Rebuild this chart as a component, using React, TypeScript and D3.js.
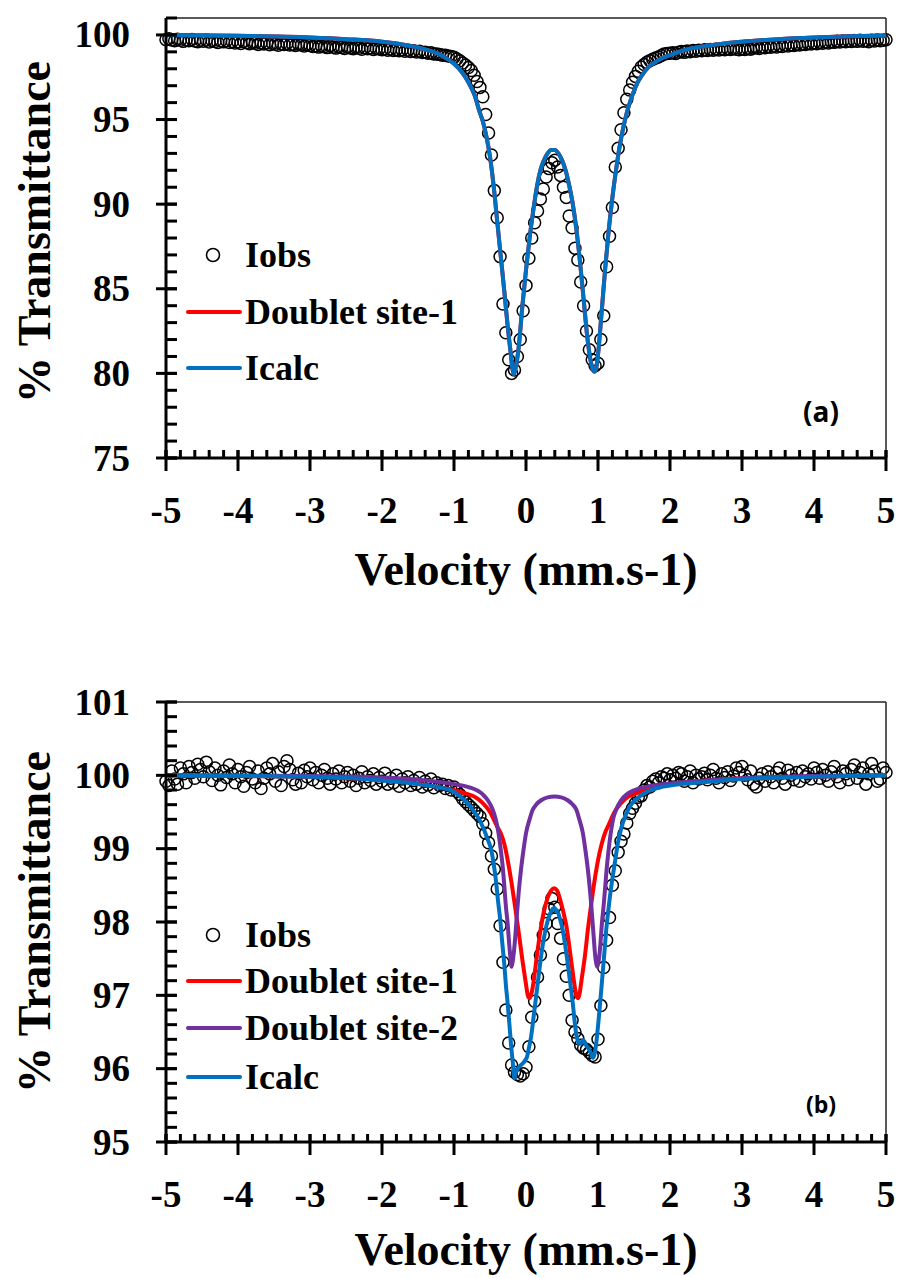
import React from 'react';
import * as d3 from 'd3';

// Channel velocity calibration (mm/s): first channel and channel step
const VEL_START = -5;
const VEL_STEP = 0.04;

// Panel (a): observed transmittance (%) per channel, -5 .. +5 mm/s
const OBS_A = [
  99.72, 99.78, 99.70, 99.66, 99.74, 99.69, 99.62, 99.71, 99.66, 99.73, 99.64, 99.60, 99.68, 99.63, 99.70, 99.58, 99.65, 99.61, 99.55, 99.64, 99.59, 99.66, 99.55, 99.60, 99.52,
  99.58, 99.50, 99.61, 99.54, 99.48, 99.56, 99.51, 99.44, 99.53, 99.47, 99.52, 99.42, 99.49, 99.45, 99.39, 99.48, 99.43, 99.50, 99.40, 99.44, 99.37, 99.45, 99.41, 99.35, 99.42,
  99.38, 99.31, 99.36, 99.28, 99.33, 99.30, 99.25, 99.34, 99.27, 99.22, 99.30, 99.26, 99.20, 99.28, 99.23, 99.19, 99.26, 99.21, 99.15, 99.24, 99.18, 99.22, 99.14, 99.20, 99.17,
  99.12, 99.18, 99.10, 99.15, 99.08, 99.13, 99.06, 99.11, 99.04, 99.09, 99.02, 99.06, 98.99, 99.03, 98.96, 98.98, 98.92, 98.94, 98.88, 98.87, 98.85, 98.80, 98.80, 98.76, 98.72,
  98.68, 98.58, 98.47, 98.34, 98.22, 98.08, 97.90, 97.62, 97.25, 96.90, 96.35, 95.30, 94.20, 92.90, 90.80, 89.20, 86.90, 84.10, 82.40, 80.80, 80.00, 80.20, 81.00, 82.00, 83.70,
  85.20, 86.80, 88.00, 88.90, 89.60, 90.30, 90.90, 91.60, 92.10, 92.45, 92.60, 92.20, 91.70, 91.00, 90.40, 89.30, 88.60, 87.40, 86.70, 85.40, 84.00, 82.50, 81.40, 80.80, 80.45,
  80.60, 82.00, 83.40, 86.30, 88.10, 89.80, 92.20, 93.30, 94.40, 95.40, 96.20, 96.75, 97.20, 97.55, 97.85, 98.10, 98.25, 98.38, 98.48, 98.56, 98.64, 98.70, 98.78, 98.88, 98.90,
  98.92, 98.95, 98.90, 98.98, 99.02, 98.97, 99.05, 99.00, 99.08, 99.04, 99.10, 99.06, 99.12, 99.08, 99.14, 99.10, 99.16, 99.11, 99.17, 99.13, 99.19, 99.14, 99.20, 99.15, 99.12,
  99.18, 99.14, 99.20, 99.16, 99.22, 99.25, 99.20, 99.28, 99.24, 99.30, 99.27, 99.33, 99.29, 99.36, 99.32, 99.39, 99.35, 99.41, 99.38, 99.44, 99.40, 99.47, 99.43, 99.50, 99.46,
  99.52, 99.48, 99.55, 99.51, 99.57, 99.53, 99.60, 99.56, 99.62, 99.58, 99.64, 99.60, 99.66, 99.61, 99.67, 99.62, 99.68, 99.63, 99.66, 99.60, 99.68, 99.64, 99.70, 99.65, 99.69, 99.72,
];

// Panel (a): fitted curve (single doublet, identical to Icalc)
const FIT_A_V = [
  -5, -4, -3, -2.5, -2, -1.6, -1.4, -1.2, -1.1, -1.0, -0.9, -0.8, -0.72, -0.64, -0.6,
  -0.55, -0.5, -0.45, -0.4, -0.35, -0.3, -0.25, -0.21, -0.19, -0.17, -0.15, -0.1, -0.05, 0, 0.05,
  0.1, 0.15, 0.2, 0.25, 0.3, 0.35, 0.4, 0.45, 0.5, 0.55, 0.6, 0.65, 0.7, 0.75, 0.8,
  0.85, 0.9, 0.93, 0.95, 0.97, 1.0, 1.05, 1.1, 1.15, 1.2, 1.25, 1.3, 1.35, 1.4, 1.45,
  1.5, 1.55, 1.6, 1.7, 1.8, 1.9, 2.0, 2.2, 2.5, 3.0, 3.5, 4.0, 4.5, 5.0,
];
const FIT_A_T = [
  100.0, 99.95, 99.85, 99.75, 99.6, 99.35, 99.15, 98.85, 98.6, 98.3, 97.85, 97.2, 96.5, 95.4, 94.9,
  94.0, 92.8, 91.1, 89.0, 86.9, 84.8, 82.6, 81.1, 80.3, 79.95, 80.2, 81.6, 84.0, 86.1, 88.0,
  89.6, 91.0, 92.0, 92.6, 93.0, 93.2, 93.2, 93.0, 92.6, 92.0, 91.1, 90.0, 88.5, 86.6, 84.4,
  82.2, 80.7, 80.2, 80.1, 80.2, 81.1, 83.6, 86.2, 88.5, 90.4, 92.0, 93.4, 94.5, 95.4, 96.1,
  96.7, 97.2, 97.55, 98.1, 98.4, 98.65, 98.8, 99.1, 99.35, 99.6, 99.75, 99.85, 99.92, 99.96,
];

// Panel (b): observed transmittance (%) per channel, -5 .. +5 mm/s
const OBS_B = [
  99.92, 99.86, 100.06, 99.95, 99.88, 100.10, 100.02, 99.90, 100.12, 100.04, 99.96, 100.15, 100.08, 99.98, 100.18, 100.05, 99.93, 100.10, 100.00, 99.87, 100.06, 99.97, 100.14, 100.02, 99.90,
  100.08, 99.98, 99.85, 100.04, 100.12, 99.95, 99.90, 100.06, 99.82, 99.96, 100.10, 100.02, 100.16, 99.92, 100.05, 99.86, 100.12, 100.20, 100.08, 99.94, 99.88, 100.03, 99.90, 100.07, 99.98,
  100.10, 99.94, 100.04, 99.90, 100.00, 100.08, 99.96, 99.88, 100.02, 99.95, 100.06, 99.90, 99.98, 100.04, 99.92, 100.00, 99.86, 99.96, 100.05, 99.90, 99.98, 99.93, 100.02, 99.88, 99.97,
  99.92, 100.03, 99.88, 99.96, 99.90, 100.00, 99.85, 99.95, 99.90, 99.98, 99.86, 99.93, 99.88, 99.97, 99.84, 99.92, 99.87, 99.95, 99.83, 99.90, 99.86, 99.88, 99.82, 99.86, 99.80,
  99.84, 99.78, 99.74, 99.68, 99.64, 99.60, 99.56, 99.52, 99.48, 99.44, 99.34, 99.21, 99.08, 98.90, 98.72, 98.45, 97.95, 97.45, 96.80, 96.35, 96.05, 95.95, 95.92, 95.90, 95.93,
  96.02, 96.30, 96.70, 96.92, 97.25, 97.55, 97.82, 97.98, 98.18, 98.32, 98.20, 97.98, 97.78, 97.50, 97.26, 97.00, 96.66, 96.50, 96.41, 96.32, 96.28, 96.26, 96.22, 96.18, 96.16,
  96.40, 96.86, 97.38, 97.75, 98.06, 98.50, 98.70, 98.95, 99.10, 99.20, 99.35, 99.48, 99.55, 99.62, 99.70, 99.72, 99.80, 99.86, 99.84, 99.92, 99.95, 99.90, 99.98, 99.96, 100.02,
  99.94, 100.00, 99.96, 100.04, 100.02, 99.92, 99.98, 100.06, 99.90, 100.00, 99.95, 99.98, 100.03, 99.94, 100.00, 100.08, 99.96, 99.90, 100.02, 99.97, 100.05, 99.93, 99.99, 100.10, 100.04,
  100.12, 100.00, 99.94, 100.06, 99.88, 99.84, 99.96, 100.02, 99.92, 100.05, 99.98, 99.90, 100.04, 100.10, 99.96, 99.88, 100.07, 100.00, 99.94, 100.04, 99.92, 100.06, 99.98, 100.02, 99.95,
  100.10, 100.04, 99.96, 100.08, 100.00, 99.92, 100.05, 100.12, 99.98, 99.90, 100.06, 100.02, 99.94, 100.08, 100.14, 99.96, 100.04, 100.10, 99.88, 100.02, 100.16, 100.06, 99.92, 99.95, 100.10, 100.04,
];

// Panel (b): doublet site-1
const SITE1_B_V = [
  -5, -4, -3, -2.5, -2, -1.6, -1.3, -1.0, -0.8, -0.72, -0.6, -0.5, -0.4, -0.35, -0.3,
  -0.25, -0.2, -0.15, -0.1, -0.05, 0, 0.025, 0.05, 0.075, 0.1, 0.15, 0.2, 0.25, 0.3, 0.35,
  0.39, 0.43, 0.47, 0.52, 0.56, 0.6, 0.64, 0.68, 0.7, 0.72, 0.74, 0.77, 0.82, 0.86, 0.9,
  0.95, 1.0, 1.05, 1.1, 1.15, 1.23, 1.32, 1.42, 1.55, 1.7, 2.0, 2.5, 3.0, 4.0, 5.0,
];
const SITE1_B_T = [
  100.0, 99.99, 99.98, 99.96, 99.94, 99.9, 99.85, 99.8, 99.74, 99.71, 99.62, 99.5, 99.3, 99.21, 99.06,
  98.82, 98.53, 98.2, 97.85, 97.48, 97.15, 97.0, 96.96, 97.02, 97.15, 97.53, 97.88, 98.15, 98.33, 98.43,
  98.46, 98.43, 98.32, 98.13, 97.95, 97.68, 97.38, 97.1, 97.0, 96.96, 97.0, 97.2, 97.55, 97.9, 98.2,
  98.55, 98.84, 99.06, 99.22, 99.33, 99.5, 99.62, 99.71, 99.76, 99.82, 99.88, 99.93, 99.96, 99.98, 100.0,
];

// Panel (b): doublet site-2
const SITE2_B_V = [
  -5, -3, -2, -1.5, -1.0, -0.8, -0.6, -0.53, -0.47, -0.42, -0.38, -0.35, -0.32, -0.3, -0.28,
  -0.255, -0.235, -0.218, -0.2, -0.182, -0.165, -0.145, -0.125, -0.1, -0.07, -0.035, 0, 0.05, 0.093, 0.15,
  0.21, 0.3, 0.395, 0.49, 0.58, 0.64, 0.7, 0.74, 0.79, 0.825, 0.86, 0.89, 0.915, 0.94, 0.96,
  0.975, 0.989, 1.003, 1.02, 1.035, 1.054, 1.078, 1.1, 1.12, 1.147, 1.175, 1.207, 1.26, 1.32, 1.4,
  1.51, 1.7, 2.0, 2.5, 3.0, 4.0, 5.0,
];
const SITE2_B_T = [
  100.0, 99.99, 99.97, 99.94, 99.88, 99.84, 99.74, 99.66, 99.55, 99.4, 99.2, 98.98, 98.72, 98.48, 98.22,
  97.98, 97.72, 97.53, 97.39, 97.48, 97.62, 97.85, 98.12, 98.42, 98.71, 98.98, 99.21, 99.4, 99.53, 99.61,
  99.66, 99.7, 99.71, 99.7, 99.66, 99.61, 99.53, 99.4, 99.21, 98.98, 98.71, 98.42, 98.12, 97.8, 97.55,
  97.44, 97.39, 97.44, 97.55, 97.72, 97.98, 98.22, 98.48, 98.72, 98.98, 99.2, 99.39, 99.55, 99.66, 99.74,
  99.8, 99.85, 99.89, 99.93, 99.96, 99.99, 100.0,
];

// Panel (b): total calculated spectrum
const CALC_B_V = [
  -5, -3, -2, -1.5, -1.05, -0.9, -0.77, -0.65, -0.58, -0.53, -0.487, -0.45, -0.418, -0.39, -0.358,
  -0.33, -0.302, -0.28, -0.255, -0.23, -0.209, -0.185, -0.163, -0.14, -0.116, -0.08, -0.046, -0.015, 0.014, 0.04,
  0.07, 0.105, 0.14, 0.175, 0.209, 0.245, 0.279, 0.315, 0.348, 0.372, 0.394, 0.415, 0.44, 0.475, 0.51,
  0.545, 0.58, 0.615, 0.65, 0.675, 0.696, 0.72, 0.743, 0.766, 0.789, 0.812, 0.835, 0.859, 0.882, 0.905,
  0.929, 0.952, 0.975, 1.0, 1.021, 1.045, 1.068, 1.09, 1.114, 1.14, 1.16, 1.195, 1.23, 1.275, 1.323,
  1.39, 1.46, 1.55, 1.65, 1.8, 2.0, 2.5, 3.0, 4.0, 5.0,
];
const CALC_B_T = [
  100.0, 99.98, 99.93, 99.88, 99.8, 99.7, 99.57, 99.4, 99.25, 99.12, 99.0, 98.8, 98.57, 98.3, 98.03,
  97.72, 97.43, 97.15, 96.89, 96.6, 96.34, 96.1, 95.87, 95.95, 96.0, 96.04, 96.07, 96.11, 96.16, 96.28,
  96.43, 96.7, 96.98, 97.26, 97.53, 97.76, 97.93, 98.06, 98.14, 98.18, 98.19, 98.17, 98.14, 98.03, 97.89,
  97.68, 97.43, 97.16, 96.89, 96.65, 96.48, 96.38, 96.34, 96.35, 96.39, 96.37, 96.32, 96.29, 96.25, 96.2,
  96.15, 96.2, 96.34, 96.58, 96.8, 97.07, 97.34, 97.6, 97.89, 98.13, 98.3, 98.56, 98.78, 99.07, 99.28,
  99.47, 99.6, 99.69, 99.76, 99.82, 99.86, 99.91, 99.95, 99.98, 100.0,
];

const X_TICKS = [-5, -4, -3, -2, -1, 0, 1, 2, 3, 4, 5];
const Y_TICKS_A = [75, 80, 85, 90, 95, 100];
const Y_TICKS_B = [95, 96, 97, 98, 99, 100, 101];

const X_TITLE = 'Velocity (mm.s-1)';
const Y_TITLE = '% Transmittance';

const BLUE = '#0070C0';
const RED = '#FF0000';
const PURPLE = '#7030A0';

const SERIF = '"Liberation Serif", "Times New Roman", Times, serif';
const SANS = '"Open Sans", Lato, "Liberation Sans", Arial, sans-serif';

const X_LEFT = 166;
const X_RIGHT = 886;

type Curve = { v: number[]; t: number[]; color: string };
type LegendItem = { label: string; kind: 'dot' | 'line'; color?: string };

type PanelProps = {
  top: number;
  bottom: number;
  domain: [number, number];
  majorTicks: number[];
  minorStep: number;
  obs: number[];
  curves: Curve[];
  legend: LegendItem[];
  legendY: number[];
  tag: string;
  tagY: number;
  tagSize: number;
  xTitleY: number;
  yTitleY: number;
};

function Panel(p: PanelProps) {
  const x = d3.scaleLinear().domain([-5, 5]).range([X_LEFT, X_RIGHT]);
  const y = d3.scaleLinear().domain(p.domain).range([p.bottom, p.top]);

  const nMinorY = Math.round((p.domain[1] - p.domain[0]) / p.minorStep);
  const minorY = d3.range(nMinorY + 1).map((k) => p.domain[0] + k * p.minorStep);
  const minorX = d3.range(51).map((k) => -5 + k * 0.2);

  const obsPts = p.obs.map((t, i) => ({ v: VEL_START + i * VEL_STEP, t }));

  const line = d3
    .line<[number, number]>()
    .x((d) => x(d[0]))
    .y((d) => y(d[1]))
    .curve(d3.curveMonotoneX);

  const tickFont = { fontFamily: SERIF, fontWeight: 700, fontSize: 37 } as const;

  return (
    <g>
      {/* frame: thin top and right edges */}
      <line x1={X_LEFT} x2={X_RIGHT} y1={p.top} y2={p.top} stroke="#222" strokeWidth={1.5} />
      <line x1={X_RIGHT} x2={X_RIGHT} y1={p.top} y2={p.bottom} stroke="#222" strokeWidth={1.5} />

      {/* observed spectrum */}
      {obsPts.map((d, i) => (
        <circle key={i} cx={x(d.v)} cy={y(d.t)} r={6} fill="none" stroke="#000" strokeWidth={1.5} />
      ))}

      {/* fitted components and total */}
      {p.curves.map((c, i) => (
        <path
          key={i}
          d={line(c.v.map((v, k) => [v, c.t[k]] as [number, number])) || ''}
          fill="none"
          stroke={c.color}
          strokeWidth={4}
          strokeLinejoin="round"
        />
      ))}

      {/* y axis */}
      <line x1={X_LEFT} x2={X_LEFT} y1={p.top} y2={p.bottom} stroke="#000" strokeWidth={3} />
      {minorY.map((t, i) => (
        <line key={'my' + i} x1={X_LEFT} x2={X_LEFT + 11} y1={y(t)} y2={y(t)} stroke="#000" strokeWidth={3} />
      ))}
      {p.majorTicks.map((t) => (
        <g key={'Y' + t}>
          <line x1={X_LEFT - 10} x2={X_LEFT + 11} y1={y(t)} y2={y(t)} stroke="#000" strokeWidth={3} />
          <text x={130} y={y(t) + 12.5} textAnchor="end" {...tickFont}>
            {t}
          </text>
        </g>
      ))}

      {/* x axis */}
      <line x1={X_LEFT} x2={X_RIGHT} y1={p.bottom} y2={p.bottom} stroke="#000" strokeWidth={3} />
      {minorX.map((v, i) => (
        <line key={'mx' + i} x1={x(v)} x2={x(v)} y1={p.bottom} y2={p.bottom - 8} stroke="#000" strokeWidth={3} />
      ))}
      {X_TICKS.map((v) => (
        <g key={'X' + v}>
          <line x1={x(v)} x2={x(v)} y1={p.bottom - 8} y2={p.bottom + 13} stroke="#000" strokeWidth={3} />
          <text x={x(v)} y={p.bottom + 65} textAnchor="middle" {...tickFont}>
            {v}
          </text>
        </g>
      ))}

      {/* axis titles */}
      <text x={526} y={p.xTitleY} textAnchor="middle" fontFamily={SERIF} fontWeight={700} fontSize={46}>
        {X_TITLE}
      </text>
      <text
        transform={`translate(50, ${p.yTitleY}) rotate(-90)`}
        textAnchor="middle"
        fontFamily={SERIF}
        fontWeight={700}
        fontSize={46}
      >
        {Y_TITLE}
      </text>

      {/* legend */}
      {p.legend.map((item, i) => {
        const ly = p.legendY[i];
        return (
          <g key={'L' + i}>
            {item.kind === 'dot' ? (
              <circle cx={213} cy={ly} r={6.5} fill="none" stroke="#000" strokeWidth={1.6} />
            ) : (
              <line x1={188} x2={240} y1={ly} y2={ly} stroke={item.color} strokeWidth={4} strokeLinecap="round" />
            )}
            <text x={245} y={ly + 12} fontFamily={SERIF} fontWeight={700} fontSize={36}>
              {item.label}
            </text>
          </g>
        );
      })}

      {/* panel tag */}
      <text
        x={821}
        y={p.tagY + p.tagSize * 0.36}
        textAnchor="middle"
        fontFamily={SANS}
        fontWeight={700}
        fontSize={p.tagSize}
      >
        {p.tag}
      </text>
    </g>
  );
}

export default function App() {
  return (
    <svg
      width={898}
      height={1278}
      viewBox="0 0 898 1278"
      style={{ position: 'absolute', left: 0, top: 0, background: '#fff' }}
    >
      <rect width={898} height={1278} fill="#fff" />
      <Panel
        top={18}
        bottom={458}
        domain={[75, 101]}
        majorTicks={Y_TICKS_A}
        minorStep={1}
        obs={OBS_A}
        curves={[
          { v: FIT_A_V, t: FIT_A_T, color: RED },
          { v: FIT_A_V, t: FIT_A_T, color: BLUE },
        ]}
        legend={[
          { label: 'Iobs', kind: 'dot' },
          { label: 'Doublet site-1', kind: 'line', color: RED },
          { label: 'Icalc', kind: 'line', color: BLUE },
        ]}
        legendY={[255, 312, 368]}
        tag="(a)"
        tagY={412}
        tagSize={28}
        xTitleY={585}
        yTitleY={232}
      />
      <Panel
        top={702}
        bottom={1142}
        domain={[95, 101]}
        majorTicks={Y_TICKS_B}
        minorStep={0.2}
        obs={OBS_B}
        curves={[
          { v: SITE1_B_V, t: SITE1_B_T, color: RED },
          { v: SITE2_B_V, t: SITE2_B_T, color: PURPLE },
          { v: CALC_B_V, t: CALC_B_T, color: BLUE },
        ]}
        legend={[
          { label: 'Iobs', kind: 'dot' },
          { label: 'Doublet site-1', kind: 'line', color: RED },
          { label: 'Doublet site-2', kind: 'line', color: PURPLE },
          { label: 'Icalc', kind: 'line', color: BLUE },
        ]}
        legendY={[935, 981, 1028, 1077]}
        tag="(b)"
        tagY={1105}
        tagSize={23}
        xTitleY={1265}
        yTitleY={922}
      />
    </svg>
  );
}
